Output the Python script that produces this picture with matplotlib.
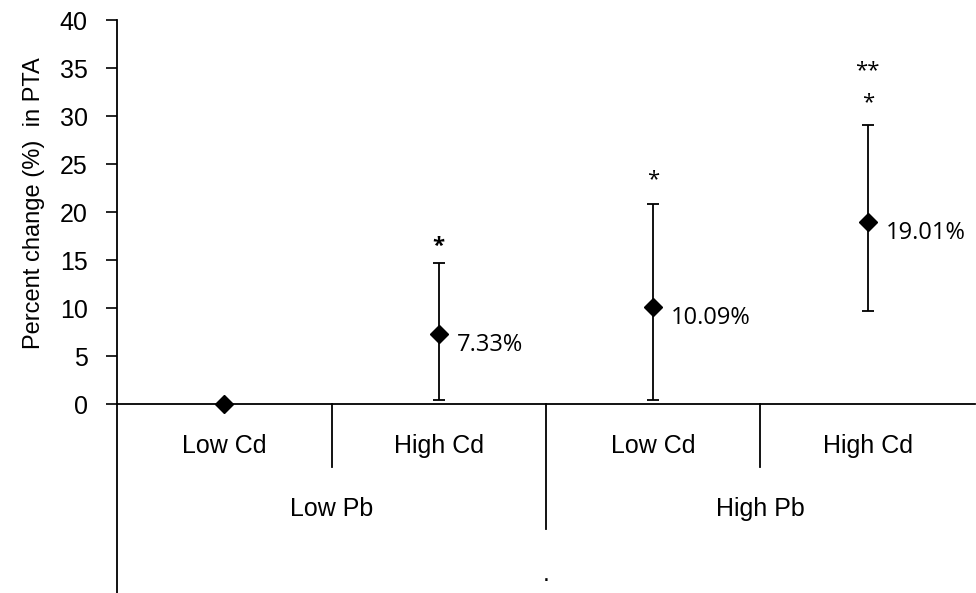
import matplotlib
matplotlib.use('Agg')
import matplotlib.pyplot as plt
import matplotlib.transforms as mtransforms

# PTA percent change by Pb / Cd treatment
cd_levels = ['Low Cd', 'High Cd', 'Low Cd', 'High Cd']
pb_levels = ['Low Pb', 'High Pb']
pct_change = [0.0, 7.33, 10.09, 19.01]
err_low = [0.0, 6.93, 9.69, 9.31]    # distance down to lower whisker
err_high = [0.0, 7.37, 10.71, 10.09]  # distance up to upper whisker
value_labels = ['', '7.33%', '10.09%', '19.01%']
stars = ['', '*', '*', '*']
star_y = [0, 16.4, 23.4, 31.4]
extra_stars = ['', '', '', '**']
extra_star_y = [0, 0, 0, 34.7]

fig = plt.figure(figsize=(9.76, 5.93), dpi=100)
ax = fig.add_axes([117 / 976, 1 - 404 / 593, 858 / 976, 384 / 593])

x = [i + 0.5 for i in range(len(pct_change))]
ax.errorbar(x, pct_change, yerr=[err_low, err_high], fmt='D', color='black',
            markersize=9, elinewidth=1.3, capsize=4.5, capthick=1.3, zorder=3,
            clip_on=False)

for xi, v, lab in zip(x, pct_change, value_labels):
    if lab:
        ax.annotate(lab, (xi, v), xytext=(13, -8), textcoords='offset points',
                    fontsize=17, family='Open Sans', va='center', ha='left')

for xi, s, sy in zip(x, stars, star_y):
    if s:
        ax.text(xi, sy, s, fontsize=16, family='Open Sans', ha='center',
                va='center', fontweight='bold' if xi == 1.5 else 'normal')
for xi, s, sy in zip(x, extra_stars, extra_star_y):
    if s:
        ax.text(xi, sy, s, fontsize=16, family='Open Sans', ha='center',
                va='center')

ax.set_xlim(0, 4)
ax.set_ylim(0, 40)
ax.set_yticks(range(0, 45, 5))
ax.tick_params(axis='y', labelsize=18, length=8, width=1.2, direction='out',
               pad=13)
for t in ax.get_yticklabels():
    t.set_family('Liberation Sans')
ax.set_xticks([])
ax.spines['top'].set_visible(False)
ax.spines['right'].set_visible(False)
ax.spines['left'].set_linewidth(1.3)
ax.spines['bottom'].set_linewidth(1.3)
ax.set_ylabel('Percent change (%)  in PTA', fontsize=17, family='Liberation Sans')
ax.yaxis.set_label_coords(-72 / 858, 201 / 384)

# two-level category axis below the plot
trans = mtransforms.blended_transform_factory(ax.transData, ax.transAxes)
ax.plot([0, 0], [0, -189 / 384], transform=trans, color='black', lw=1.3,
        clip_on=False)
for sx, bottom in [(1, -63 / 384), (2, -125 / 384), (3, -63 / 384)]:
    ax.plot([sx, sx], [0, bottom], transform=trans, color='black', lw=1.3,
            clip_on=False)
for xi, lab in zip(x, cd_levels):
    ax.text(xi, -42 / 384, lab, transform=trans, ha='center', va='center',
            fontsize=18, family='Liberation Sans')
for gi, lab in enumerate(pb_levels):
    ax.text(1 + 2 * gi, -105 / 384, lab, transform=trans, ha='center',
            va='center', fontsize=18, family='Liberation Sans')
ax.text(2, -170 / 384, '.', transform=trans, ha='center', va='center',
        fontsize=18, family='Liberation Sans')

fig.savefig('out.png', dpi=100)
